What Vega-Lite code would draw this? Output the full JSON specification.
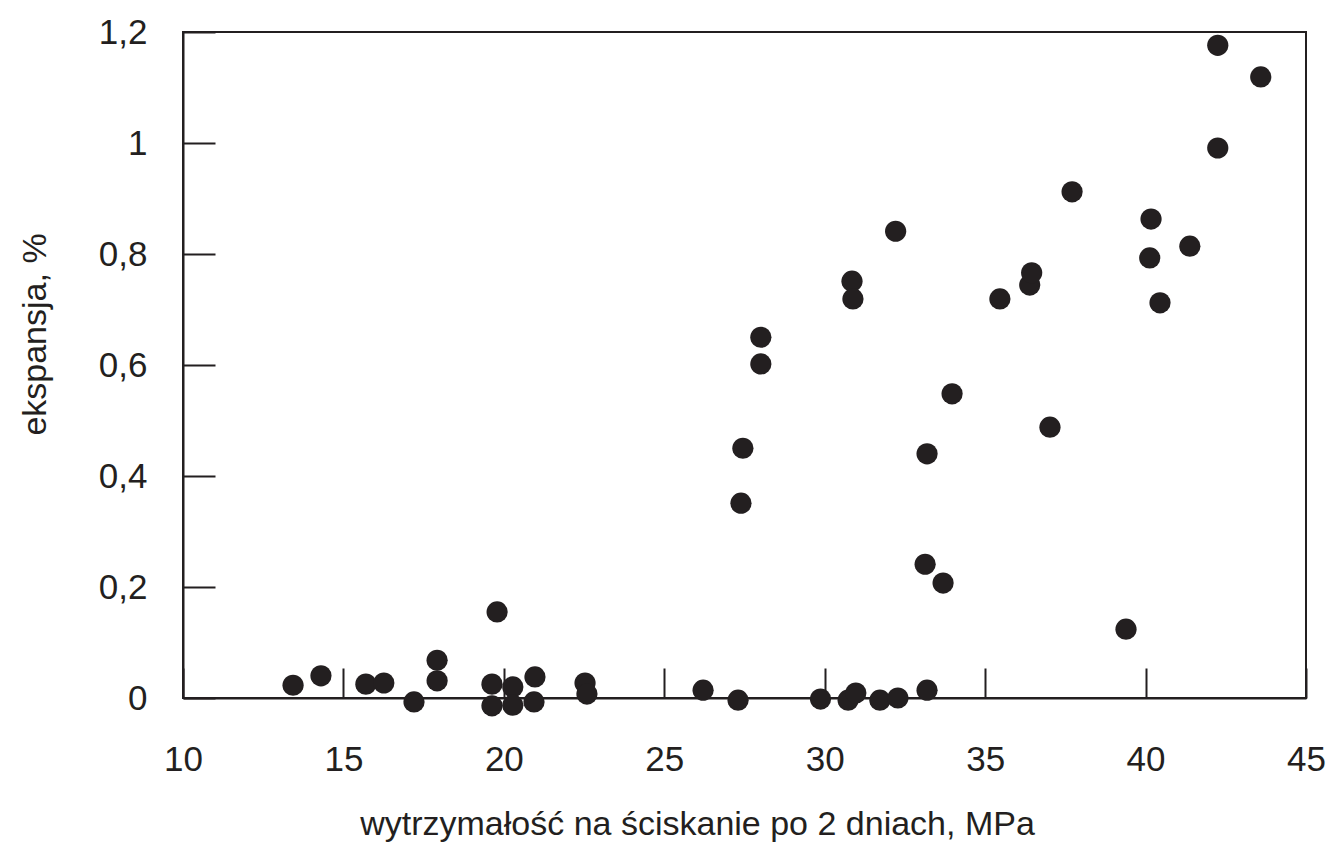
{
  "$schema": "https://vega.github.io/schema/vega-lite/v6.json",
  "width": 1123,
  "height": 666,
  "autosize": {"type": "none"},
  "padding": {"left": 183, "top": 32, "right": 27, "bottom": 148},
  "background": "white",
  "config": {
    "view": {"stroke": "#231f20", "strokeWidth": 2},
    "font": "Liberation Sans",
    "axis": {
      "grid": false,
      "domainColor": "#231f20",
      "domainWidth": 2,
      "tickColor": "#231f20",
      "tickWidth": 2,
      "labelFont": "Liberation Sans",
      "labelFontSize": 35,
      "labelColor": "#231f20",
      "titleFont": "Liberation Sans",
      "titleFontSize": 34,
      "titleFontWeight": "normal",
      "titleColor": "#231f20"
    }
  },
  "data": {
    "values": [
      {"x": 13.43, "y": 0.023},
      {"x": 14.30, "y": 0.040},
      {"x": 15.70, "y": 0.025},
      {"x": 16.26, "y": 0.027},
      {"x": 17.20, "y": -0.007},
      {"x": 17.92, "y": 0.068},
      {"x": 17.92, "y": 0.031},
      {"x": 19.79, "y": 0.155},
      {"x": 19.63, "y": 0.025},
      {"x": 19.63, "y": -0.014},
      {"x": 20.28, "y": 0.020},
      {"x": 20.28, "y": -0.013},
      {"x": 20.97, "y": 0.038},
      {"x": 20.94, "y": -0.007},
      {"x": 22.53, "y": 0.027},
      {"x": 22.59, "y": 0.007},
      {"x": 26.21, "y": 0.014},
      {"x": 27.30, "y": -0.004},
      {"x": 27.39, "y": 0.351},
      {"x": 27.45, "y": 0.450},
      {"x": 28.01, "y": 0.602},
      {"x": 28.01, "y": 0.650},
      {"x": 29.87, "y": -0.002},
      {"x": 30.73, "y": -0.004},
      {"x": 30.97, "y": 0.009},
      {"x": 30.85, "y": 0.751},
      {"x": 30.88, "y": 0.719},
      {"x": 31.72, "y": -0.004},
      {"x": 32.28, "y": 0.000},
      {"x": 32.21, "y": 0.841},
      {"x": 33.19, "y": 0.014},
      {"x": 33.19, "y": 0.440},
      {"x": 33.13, "y": 0.241},
      {"x": 33.69, "y": 0.207},
      {"x": 33.97, "y": 0.548},
      {"x": 35.46, "y": 0.719},
      {"x": 36.39, "y": 0.744},
      {"x": 36.45, "y": 0.766},
      {"x": 37.02, "y": 0.488},
      {"x": 37.71, "y": 0.912},
      {"x": 39.39, "y": 0.124},
      {"x": 40.17, "y": 0.863},
      {"x": 40.13, "y": 0.793},
      {"x": 40.45, "y": 0.712},
      {"x": 41.38, "y": 0.814},
      {"x": 42.25, "y": 1.176},
      {"x": 42.25, "y": 0.991},
      {"x": 43.59, "y": 1.119}
    ]
  },
  "mark": {"type": "circle", "size": 450, "color": "#231f20", "opacity": 1},
  "encoding": {
    "x": {
      "field": "x",
      "type": "quantitative",
      "scale": {"domain": [10, 45], "nice": false, "zero": false},
      "axis": {
        "title": "wytrzymałość na ściskanie po 2 dniach, MPa",
        "values": [10, 15, 20, 25, 30, 35, 40, 45],
        "tickSize": -30,
        "labelPadding": 74,
        "titlePadding": 30,
        "titleX": 514,
        "labelFlush": false,
        "labelExpr": "replace(toString(datum.value), '.', ',')"
      }
    },
    "y": {
      "field": "y",
      "type": "quantitative",
      "scale": {"domain": [0, 1.2], "nice": false, "zero": false},
      "axis": {
        "title": "ekspansja, %",
        "values": [0, 0.2, 0.4, 0.6, 0.8, 1, 1.2],
        "tickSize": -32,
        "labelPadding": 68,
        "titlePadding": 46,
        "titleY": 302,
        "labelFlush": false,
        "labelExpr": "replace(toString(datum.value), '.', ',')"
      }
    }
  }
}
